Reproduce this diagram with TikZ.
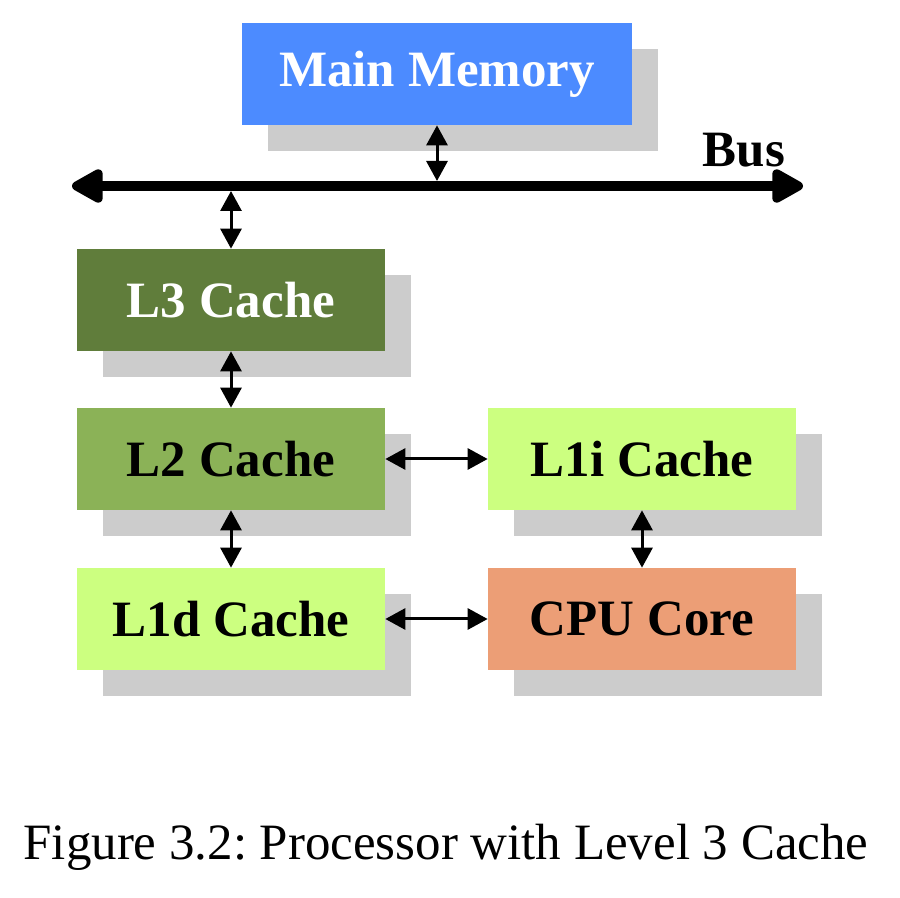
\documentclass[tikz,border=0pt]{standalone}
\usepackage{fontspec}
\setmainfont{Liberation Serif}
\usetikzlibrary{arrows.meta,shadows}
\definecolor{memblue}{RGB}{76,139,255}
\definecolor{darkgreen}{RGB}{96,125,59}
\definecolor{midgreen}{RGB}{139,178,87}
\definecolor{lightgreen}{RGB}{204,255,128}
\definecolor{coreorange}{RGB}{236,158,118}
\definecolor{shadowgray}{RGB}{204,204,204}

\begin{document}
\frenchspacing
\begin{tikzpicture}[box/.style={rectangle, inner sep=0, minimum width=6.16cm, minimum height=2.04cm,
      font=\fontsize{29}{34}\selectfont\bfseries,
      drop shadow={shadow xshift=0.52cm, shadow yshift=-0.52cm, fill=shadowgray, opacity=1}},
    link/.style={line width=0.06cm, {Triangle[length=0.4cm, width=0.42cm]}-{Triangle[length=0.4cm, width=0.42cm]}},
    busline/.style={line width=0.2cm, {Triangle[round, length=0.72cm, width=0.74cm]}-{Triangle[round, length=0.72cm, width=0.74cm]}}]
      \useasboundingbox (0,0) rectangle (18,-17.96);

      \node[fill=memblue, text=white] at (8.74,-1.48) [box, minimum width=7.8cm] (mem) {Main Memory};
      \node[fill=darkgreen, text=white] at (4.62,-6.0) [box] (l3) {L3 Cache};
      \node[fill=midgreen] at (4.62,-9.18) [box] (l2) {L2 Cache};
      \node[fill=lightgreen] at (4.62,-12.38) [box] (l1d) {L1d Cache};
      \node[fill=lightgreen] at (12.84,-9.18) [box] (l1i) {L1i Cache};
      \node[fill=coreorange] at (12.84,-12.38) [box] (cpu) {CPU Core};

      % bus
      \coordinate (busw) at (1.44,-3.72);
      \coordinate (buse) at (16.06,-3.72);
      \draw[busline] (busw) -- (buse);
      \node at (14.88,-3.0) [font=\fontsize{29}{34}\selectfont\bfseries] (buslabel) {Bus};

      \coordinate (memtap) at (8.74,-3.62);
      \coordinate (l3tap) at (4.62,-3.82);

      \draw[link] (mem) -- (memtap);
      \draw[link] (l3tap) -- (l3);
      \draw[link] (l3) -- (l2);
      \draw[link] (l2) -- (l1d);
      \draw[link] (l2) -- (l1i);
      \draw[link] (l1d) -- (cpu);
      \draw[link] (l1i) -- (cpu);

      \node at (8.92,-16.95) [font=\fontsize{29}{34}\selectfont] (caption) {Figure 3.2: Processor with Level 3 Cache};
    \end{tikzpicture}
\end{document}
